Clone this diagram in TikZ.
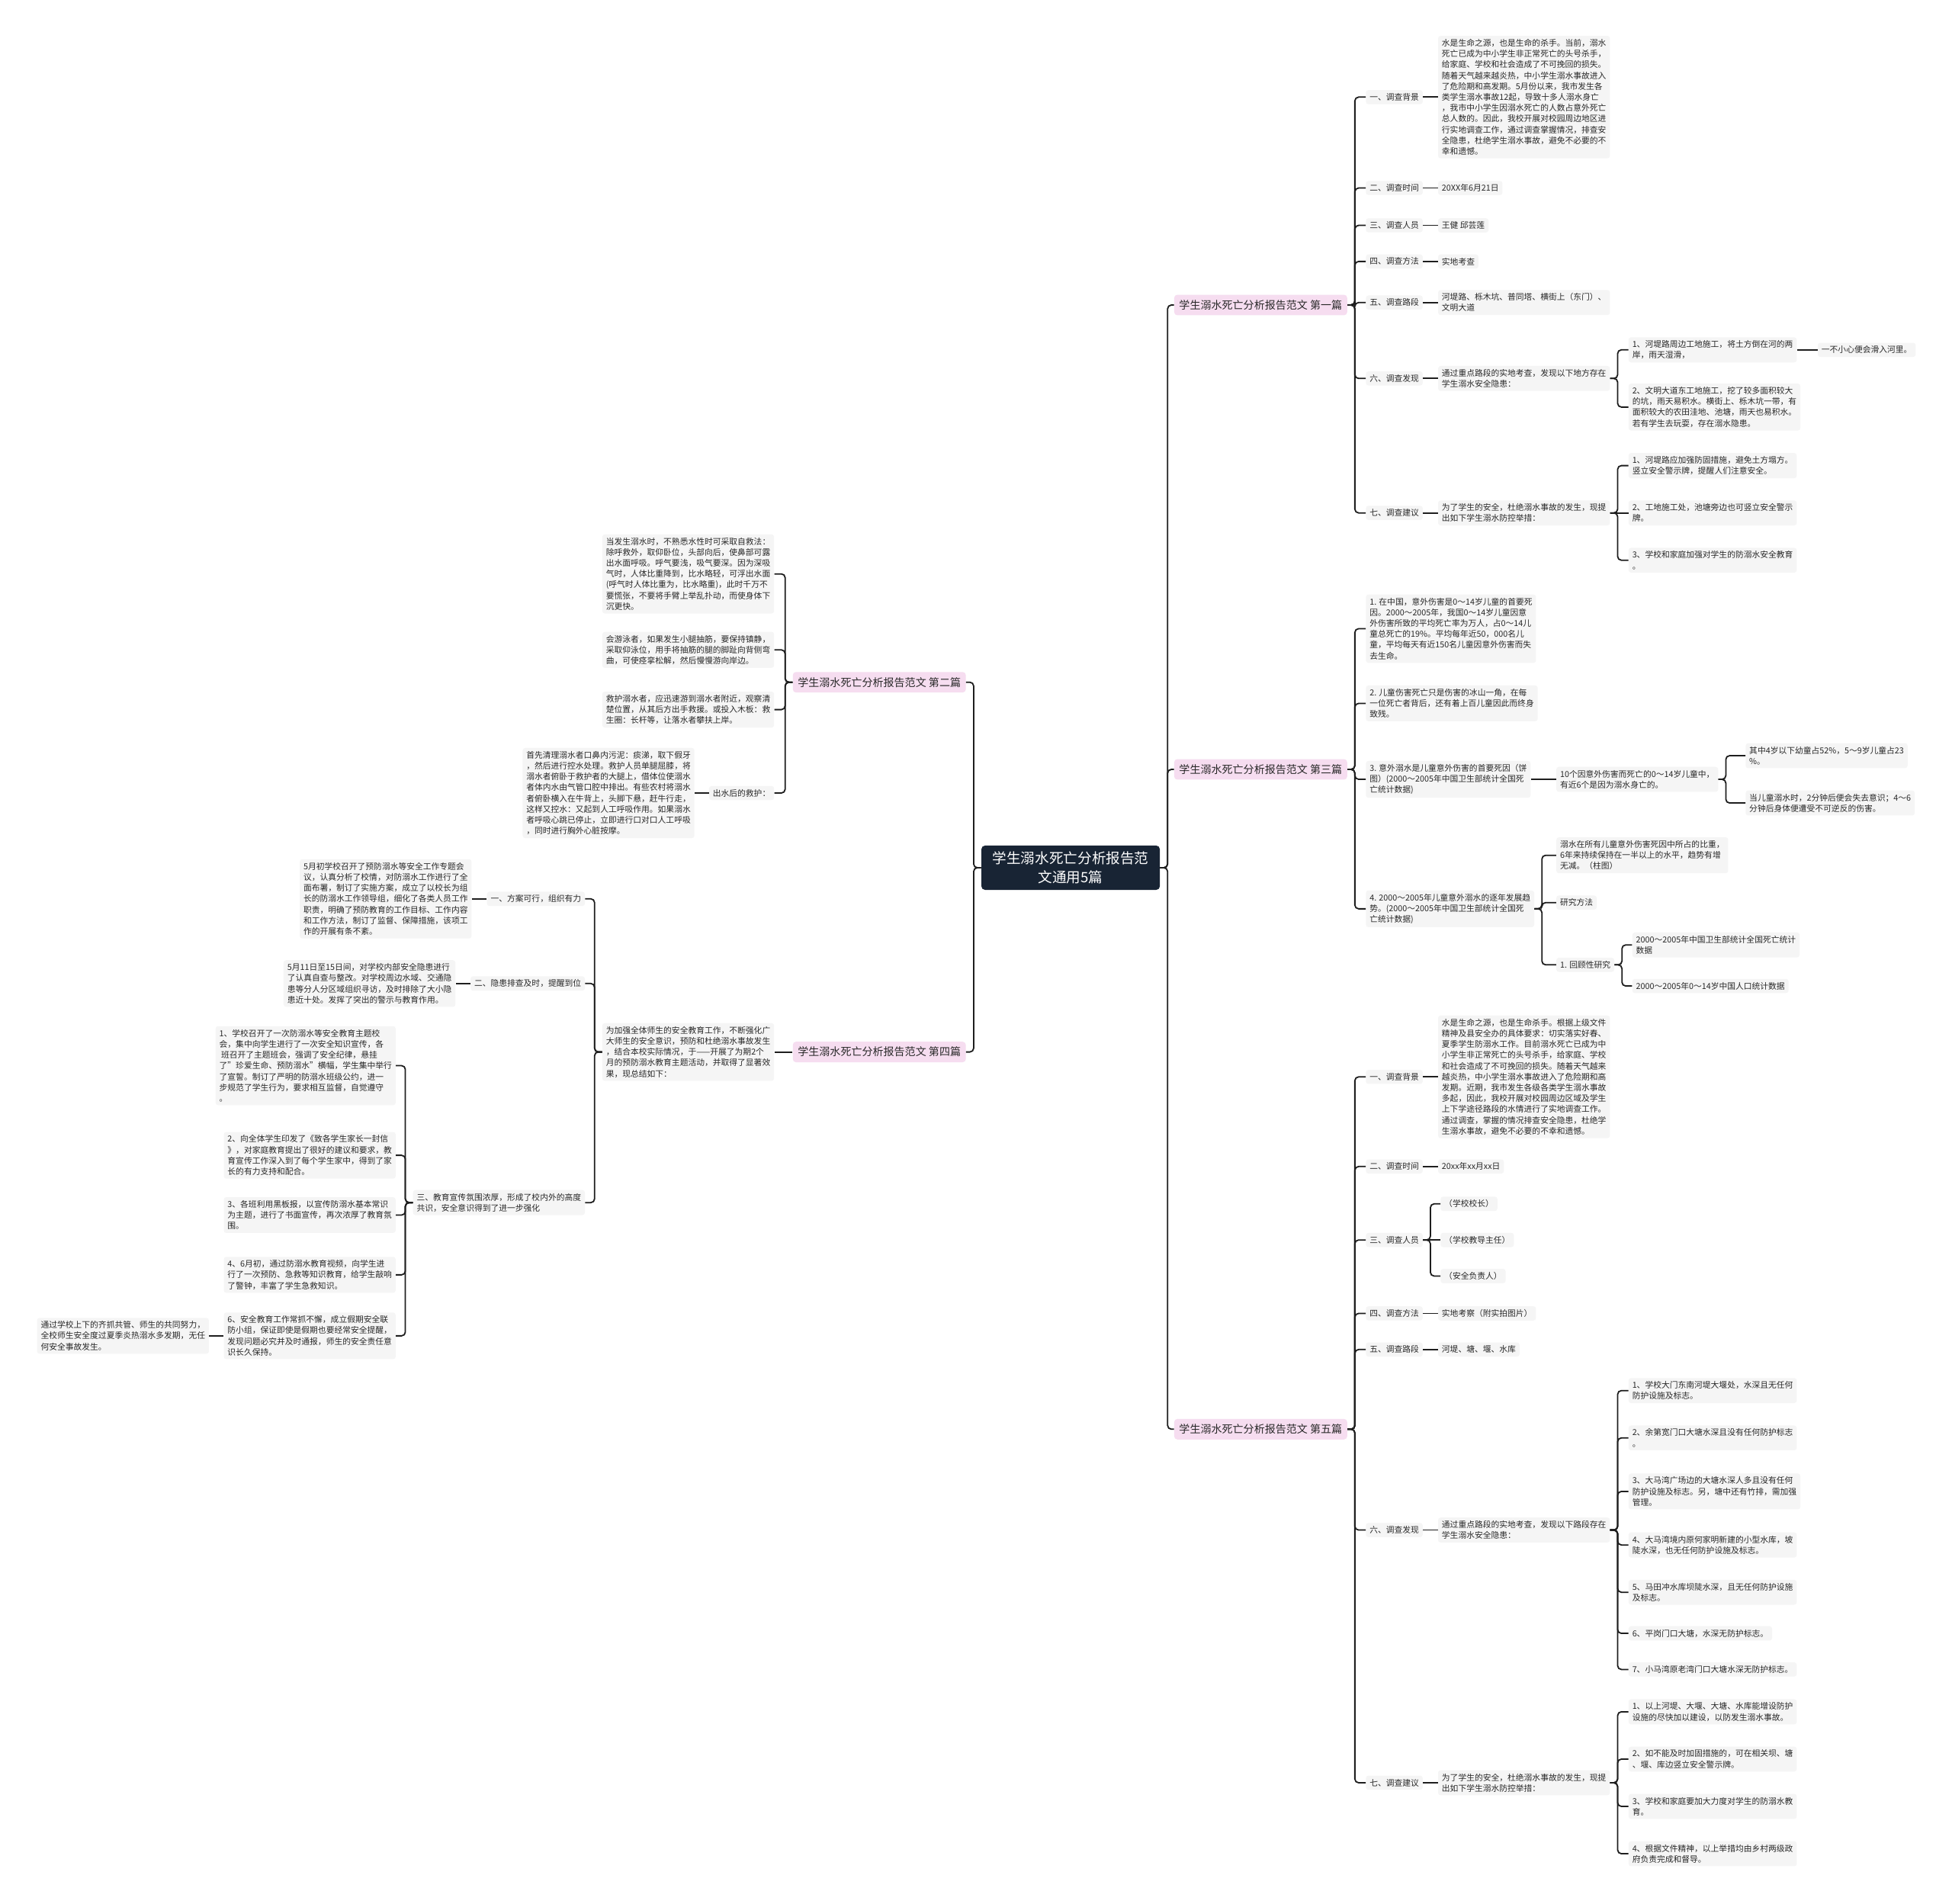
\documentclass[tikz,border=0pt]{standalone}
\usepackage{fontspec}
\setmainfont{Noto Sans CJK SC}
\definecolor{rootc}{RGB}{24,36,52}
\definecolor{pinkc}{RGB}{246,221,240}
\definecolor{leafc}{RGB}{245,245,245}
\definecolor{txtc}{RGB}{40,40,40}
\definecolor{linec}{RGB}{30,30,30}
\tikzset{
 root/.style={fill=rootc, text=white, rounded corners=3pt, inner xsep=9pt, inner ysep=5pt, align=center, font=\fontsize{11.4}{15}\selectfont},
 lvone/.style={fill=pinkc, text=txtc, rounded corners=2.5pt, inner xsep=4pt, inner ysep=4.2pt, font=\fontsize{8.6}{11}\selectfont},
 leaf/.style={fill=leafc, text=txtc, rounded corners=2pt, inner xsep=3pt, inner ysep=2.6pt, align=left, font=\fontsize{6.6}{8.7}\selectfont},
 conn/.style={draw=linec, line width=1.1pt, rounded corners=3pt},
}
\newcommand\rcon[2]{\draw[conn] (#1.east) -- ++(6,0) |- (#2.west);}
\newcommand\lcon[2]{\draw[conn] (#1.west) -- ++(-6,0) |- (#2.east);}
\newcommand\srcon[2]{\draw[conn] (#1.east) -- (#2.west);}
\newcommand\slcon[2]{\draw[conn] (#1.west) -- (#2.east);}
\begin{document}
\begin{tikzpicture}[x=1pt,y=-1pt]
\fill[white] (0,0) rectangle (1568,1529);
\useasboundingbox (0,0) rectangle (1568,1529);

% root
\node[root] (R) at (860,697) {学生溺水死亡分析报告范\\文通用5篇};

% level 1
\node[lvone,anchor=west] (B1) at (943,245) {学生溺水死亡分析报告范文 第一篇};
\node[lvone,anchor=west] (B3) at (943,618) {学生溺水死亡分析报告范文 第三篇};
\node[lvone,anchor=west] (B5) at (943,1148) {学生溺水死亡分析报告范文 第五篇};
\node[lvone,anchor=east] (B2) at (776,548) {学生溺水死亡分析报告范文 第二篇};
\node[lvone,anchor=east] (B4) at (776,845) {学生溺水死亡分析报告范文 第四篇};

\rcon{R}{B1}\rcon{R}{B3}\rcon{R}{B5}
\lcon{R}{B2}\lcon{R}{B4}

% ===== Branch 1 =====
\node[leaf,anchor=west] (b1a) at (1097,78) {一、调查背景};
\node[leaf,anchor=west] (b1a1) at (1155,78) {水是生命之源，也是生命的杀手。当前，溺水\\
死亡已成为中小学生非正常死亡的头号杀手，\\
给家庭、学校和社会造成了不可挽回的损失。\\
随着天气越来越炎热，中小学生溺水事故进入\\
了危险期和高发期。5月份以来，我市发生各\\
类学生溺水事故12起，导致十多人溺水身亡\\
，我市中小学生因溺水死亡的人数占意外死亡\\
总人数的。因此，我校开展对校园周边地区进\\
行实地调查工作，通过调查掌握情况，排查安\\
全隐患，杜绝学生溺水事故，避免不必要的不\\
幸和遗憾。};
\node[leaf,anchor=west] (b1b) at (1097,151) {二、调查时间};
\node[leaf,anchor=west] (b1b1) at (1155,151) {20XX年6月21日};
\node[leaf,anchor=west] (b1c) at (1097,181) {三、调查人员};
\node[leaf,anchor=west] (b1c1) at (1155,181) {王健 邱芸莲};
\node[leaf,anchor=west] (b1d) at (1097,210) {四、调查方法};
\node[leaf,anchor=west] (b1d1) at (1155,210) {实地考查};
\node[leaf,anchor=west] (b1e) at (1097,243) {五、调查路段};
\node[leaf,anchor=west] (b1e1) at (1155,243) {河堤路、栎木坑、普同塔、横街上（东门）、\\文明大道};
\node[leaf,anchor=west] (b1f) at (1097,304) {六、调查发现};
\node[leaf,anchor=west] (b1f1) at (1155,304) {通过重点路段的实地考查，发现以下地方存在\\学生溺水安全隐患：};
\node[leaf,anchor=west] (b1f1a) at (1308,281) {1、河堤路周边工地施工，将土方倒在河的两\\岸，雨天湿滑，};
\node[leaf,anchor=west] (b1f1a1) at (1460,281) {一不小心便会滑入河里。};
\node[leaf,anchor=west] (b1f1b) at (1308,327) {2、文明大道东工地施工，挖了较多面积较大\\
的坑，雨天易积水。横街上、栎木坑一带，有\\
面积较大的农田洼地、池塘，雨天也易积水。\\
若有学生去玩耍，存在溺水隐患。};
\node[leaf,anchor=west] (b1g) at (1097,412) {七、调查建议};
\node[leaf,anchor=west] (b1g1) at (1155,412) {为了学生的安全，杜绝溺水事故的发生，现提\\出如下学生溺水防控举措：};
\node[leaf,anchor=west] (b1g1a) at (1308,374) {1、河堤路应加强防固措施，避免土方塌方。\\竖立安全警示牌，提醒人们注意安全。};
\node[leaf,anchor=west] (b1g1b) at (1308,412) {2、工地施工处，池塘旁边也可竖立安全警示\\牌。};
\node[leaf,anchor=west] (b1g1c) at (1308,450) {3、学校和家庭加强对学生的防溺水安全教育\\。};

\rcon{B1}{b1a}\rcon{B1}{b1b}\rcon{B1}{b1c}\rcon{B1}{b1d}\rcon{B1}{b1e}\rcon{B1}{b1f}\rcon{B1}{b1g}
\srcon{b1a}{b1a1}\srcon{b1b}{b1b1}\srcon{b1c}{b1c1}\srcon{b1d}{b1d1}\srcon{b1e}{b1e1}\srcon{b1f}{b1f1}\srcon{b1g}{b1g1}
\rcon{b1f1}{b1f1a}\rcon{b1f1}{b1f1b}\srcon{b1f1a}{b1f1a1}
\rcon{b1g1}{b1g1a}\srcon{b1g1}{b1g1b}\rcon{b1g1}{b1g1c}

% ===== Branch 3 =====
\node[leaf,anchor=west] (b3a) at (1097,505) {1. 在中国，意外伤害是0～14岁儿童的首要死\\
因。2000～2005年，我国0～14岁儿童因意\\
外伤害所致的平均死亡率为万人，占0～14儿\\
童总死亡的19\%。平均每年近50，000名儿\\
童，平均每天有近150名儿童因意外伤害而失\\
去生命。};
\node[leaf,anchor=west] (b3b) at (1097,565) {2. 儿童伤害死亡只是伤害的冰山一角，在每\\
一位死亡者背后，还有着上百儿童因此而终身\\
致残。};
\node[leaf,anchor=west] (b3c) at (1097,626) {3. 意外溺水是儿童意外伤害的首要死因（饼\\
图）(2000～2005年中国卫生部统计全国死\\
亡统计数据)};
\node[leaf,anchor=west] (b3c1) at (1250,626) {10个因意外伤害而死亡的0～14岁儿童中，\\有近6个是因为溺水身亡的。};
\node[leaf,anchor=west] (b3c1a) at (1402,607) {其中4岁以下幼童占52\%，5～9岁儿童占23\\\%。};
\node[leaf,anchor=west] (b3c1b) at (1402,645) {当儿童溺水时，2分钟后便会失去意识；4～6\\分钟后身体便遭受不可逆反的伤害。};
\node[leaf,anchor=west] (b3d) at (1097,730) {4. 2000～2005年儿童意外溺水的逐年发展趋\\
势。(2000～2005年中国卫生部统计全国死\\
亡统计数据)};
\node[leaf,anchor=west] (b3d1) at (1250,687) {溺水在所有儿童意外伤害死因中所占的比重，\\6年来持续保持在一半以上的水平，趋势有增\\无减。（柱图）};
\node[leaf,anchor=west] (b3d2) at (1250,725) {研究方法};
\node[leaf,anchor=west] (b3d3) at (1250,775) {1. 回顾性研究};
\node[leaf,anchor=west] (b3d3a) at (1311,759) {2000～2005年中国卫生部统计全国死亡统计\\数据};
\node[leaf,anchor=west] (b3d3b) at (1311,792) {2000～2005年0～14岁中国人口统计数据};

\rcon{B3}{b3a}\rcon{B3}{b3b}\rcon{B3}{b3c}\rcon{B3}{b3d}
\srcon{b3c}{b3c1}\rcon{b3c1}{b3c1a}\rcon{b3c1}{b3c1b}
\rcon{b3d}{b3d1}\rcon{b3d}{b3d2}\rcon{b3d}{b3d3}
\rcon{b3d3}{b3d3a}\rcon{b3d3}{b3d3b}

% ===== Branch 5 =====
\node[leaf,anchor=west] (b5a) at (1097,865) {一、调查背景};
\node[leaf,anchor=west] (b5a1) at (1155,865) {水是生命之源，也是生命杀手。根据上级文件\\
精神及县安全办的具体要求：切实落实好春、\\
夏季学生防溺水工作。目前溺水死亡已成为中\\
小学生非正常死亡的头号杀手，给家庭、学校\\
和社会造成了不可挽回的损失。随着天气越来\\
越炎热，中小学生溺水事故进入了危险期和高\\
发期。近期，我市发生各级各类学生溺水事故\\
多起，因此，我校开展对校园周边区域及学生\\
上下学途径路段的水情进行了实地调查工作。\\
通过调查，掌握的情况排查安全隐患，杜绝学\\
生溺水事故，避免不必要的不幸和遗憾。};
\node[leaf,anchor=west] (b5b) at (1097,937) {二、调查时间};
\node[leaf,anchor=west] (b5b1) at (1155,937) {20xx年xx月xx日};
\node[leaf,anchor=west] (b5c) at (1097,996) {三、调查人员};
\node[leaf,anchor=west] (b5c1) at (1157,967) {（学校校长）};
\node[leaf,anchor=west] (b5c2) at (1157,996) {（学校教导主任）};
\node[leaf,anchor=west] (b5c3) at (1157,1025) {（安全负责人）};
\node[leaf,anchor=west] (b5d) at (1097,1055) {四、调查方法};
\node[leaf,anchor=west] (b5d1) at (1155,1055) {实地考察（附实拍图片）};
\node[leaf,anchor=west] (b5e) at (1097,1084) {五、调查路段};
\node[leaf,anchor=west] (b5e1) at (1155,1084) {河堤、塘、堰、水库};
\node[leaf,anchor=west] (b5f) at (1097,1229) {六、调查发现};
\node[leaf,anchor=west] (b5f1) at (1155,1229) {通过重点路段的实地考查，发现以下路段存在\\学生溺水安全隐患：};
\node[leaf,anchor=west] (b5f1a) at (1308,1117) {1、学校大门东南河堤大堰处，水深且无任何\\防护设施及标志。};
\node[leaf,anchor=west] (b5f1b) at (1308,1155) {2、余第宽门口大塘水深且没有任何防护标志\\。};
\node[leaf,anchor=west] (b5f1c) at (1308,1198) {3、大马湾广场边的大塘水深人多且没有任何\\防护设施及标志。另，塘中还有竹排，需加强\\管理。};
\node[leaf,anchor=west] (b5f1d) at (1308,1241) {4、大马湾境内原何家明新建的小型水库，坡\\陡水深，也无任何防护设施及标志。};
\node[leaf,anchor=west] (b5f1e) at (1308,1279) {5、马田冲水库坝陡水深，且无任何防护设施\\及标志。};
\node[leaf,anchor=west] (b5f1f) at (1308,1312) {6、平岗门口大塘，水深无防护标志。};
\node[leaf,anchor=west] (b5f1g) at (1308,1341) {7、小马湾原老湾门口大塘水深无防护标志。};
\node[leaf,anchor=west] (b5g) at (1097,1432) {七、调查建议};
\node[leaf,anchor=west] (b5g1) at (1155,1432) {为了学生的安全，杜绝溺水事故的发生，现提\\出如下学生溺水防控举措：};
\node[leaf,anchor=west] (b5g1a) at (1308,1375) {1、以上河堤、大堰、大塘、水库能增设防护\\设施的尽快加以建设，以防发生溺水事故。};
\node[leaf,anchor=west] (b5g1b) at (1308,1413) {2、如不能及时加固措施的，可在相关坝、塘\\、堰、库边竖立安全警示牌。};
\node[leaf,anchor=west] (b5g1c) at (1308,1451) {3、学校和家庭要加大力度对学生的防溺水教\\育。};
\node[leaf,anchor=west] (b5g1d) at (1308,1489) {4、根据文件精神，以上举措均由乡村两级政\\府负责完成和督导。};

\rcon{B5}{b5a}\rcon{B5}{b5b}\rcon{B5}{b5c}\rcon{B5}{b5d}\rcon{B5}{b5e}\rcon{B5}{b5f}\rcon{B5}{b5g}
\srcon{b5a}{b5a1}\srcon{b5b}{b5b1}\srcon{b5d}{b5d1}\srcon{b5e}{b5e1}\srcon{b5f}{b5f1}\srcon{b5g}{b5g1}
\rcon{b5c}{b5c1}\srcon{b5c}{b5c2}\rcon{b5c}{b5c3}
\rcon{b5f1}{b5f1a}\rcon{b5f1}{b5f1b}\rcon{b5f1}{b5f1c}\rcon{b5f1}{b5f1d}\rcon{b5f1}{b5f1e}\rcon{b5f1}{b5f1f}\rcon{b5f1}{b5f1g}
\rcon{b5g1}{b5g1a}\rcon{b5g1}{b5g1b}\rcon{b5g1}{b5g1c}\rcon{b5g1}{b5g1d}

% ===== Branch 2 =====
\node[leaf,anchor=east] (b2a) at (622,461) {当发生溺水时，不熟悉水性时可采取自救法：\\
除呼救外，取仰卧位，头部向后，使鼻部可露\\
出水面呼吸。呼气要浅，吸气要深。因为深吸\\
气时，人体比重降到，比水略轻，可浮出水面\\
(呼气时人体比重为，比水略重)，此时千万不\\
要慌张，不要将手臂上举乱扑动，而使身体下\\
沉更快。};
\node[leaf,anchor=east] (b2b) at (622,522) {会游泳者，如果发生小腿抽筋，要保持镇静，\\
采取仰泳位，用手将抽筋的腿的脚趾向背侧弯\\
曲，可使痉挛松解，然后慢慢游向岸边。};
\node[leaf,anchor=east] (b2c) at (622,570) {救护溺水者，应迅速游到溺水者附近，观察清\\
楚位置，从其后方出手救援。或投入木板：救\\
生圈：长杆等，让落水者攀扶上岸。};
\node[leaf,anchor=east] (b2d) at (622,637) {出水后的救护：};
\node[leaf,anchor=east] (b2d1) at (558,637) {首先清理溺水者口鼻内污泥：痰涕，取下假牙\\
，然后进行控水处理。救护人员单腿屈膝，将\\
溺水者俯卧于救护者的大腿上，借体位使溺水\\
者体内水由气管口腔中排出。有些农村将溺水\\
者俯卧横入在牛背上，头脚下悬，赶牛行走，\\
这样又控水：又起到人工呼吸作用。如果溺水\\
者呼吸心跳已停止，立即进行口对口人工呼吸\\
，同时进行胸外心脏按摩。};

\lcon{B2}{b2a}\lcon{B2}{b2b}\lcon{B2}{b2c}\lcon{B2}{b2d}
\slcon{b2d}{b2d1}

% ===== Branch 4 =====
\node[leaf,anchor=east] (b4a) at (622,845) {为加强全体师生的安全教育工作，不断强化广\\
大师生的安全意识，预防和杜绝溺水事故发生\\
，结合本校实际情况，于——开展了为期2个\\
月的预防溺水教育主题活动，并取得了显著效\\
果，现总结如下：};
\node[leaf,anchor=east] (b4a1) at (470,722) {一、方案可行，组织有力};
\node[leaf,anchor=east] (b4a1a) at (379,722) {5月初学校召开了预防溺水等安全工作专题会\\
议，认真分析了校情，对防溺水工作进行了全\\
面布署，制订了实施方案，成立了以校长为组\\
长的防溺水工作领导组，细化了各类人员工作\\
职责，明确了预防教育的工作目标、工作内容\\
和工作方法，制订了监督、保障措施，该项工\\
作的开展有条不紊。};
\node[leaf,anchor=east] (b4a2) at (470,790) {二、隐患排查及时，提醒到位};
\node[leaf,anchor=east] (b4a2a) at (366,790) {5月11日至15日间，对学校内部安全隐患进行\\
了认真自查与整改。对学校周边水域、交通隐\\
患等分人分区域组织寻访，及时排除了大小隐\\
患近十处。发挥了突出的警示与教育作用。};
\node[leaf,anchor=east] (b4a3) at (470,966) {三、教育宣传氛围浓厚，形成了校内外的高度\\共识，安全意识得到了进一步强化};
\node[leaf,anchor=east] (b4c1) at (318,856) {1、学校召开了一次防溺水等安全教育主题校\\
会，集中向学生进行了一次安全知识宣传，各\\
\ 班召开了主题班会，强调了安全纪律，悬挂\\
了"珍爱生命、预防溺水"横幅，学生集中举行\\
了宣誓。制订了严明的防溺水班级公约，进一\\
步规范了学生行为，要求相互监督，自觉遵守\\
。};
\node[leaf,anchor=east] (b4c2) at (318,928) {2、向全体学生印发了《致各学生家长一封信\\
》，对家庭教育提出了很好的建议和要求，教\\
育宣传工作深入到了每个学生家中，得到了家\\
长的有力支持和配合。};
\node[leaf,anchor=east] (b4c3) at (318,976) {3、各班利用黑板报，以宣传防溺水基本常识\\
为主题，进行了书面宣传，再次浓厚了教育氛\\
围。};
\node[leaf,anchor=east] (b4c4) at (318,1024) {4、6月初，通过防溺水教育视频，向学生进\\
行了一次预防、急救等知识教育，给学生敲响\\
了警钟，丰富了学生急救知识。};
\node[leaf,anchor=east] (b4c5) at (318,1073) {6、安全教育工作常抓不懈，成立假期安全联\\
防小组，保证即使是假期也要经常安全提醒，\\
发现问题必究并及时通报，师生的安全责任意\\
识长久保持。};
\node[leaf,anchor=east] (b4c5a) at (168,1073) {通过学校上下的齐抓共管、师生的共同努力，\\
全校师生安全度过夏季炎热溺水多发期，无任\\
何安全事故发生。};

\slcon{B4}{b4a}
\lcon{b4a}{b4a1}\lcon{b4a}{b4a2}\lcon{b4a}{b4a3}
\slcon{b4a1}{b4a1a}\slcon{b4a2}{b4a2a}
\lcon{b4a3}{b4c1}\lcon{b4a3}{b4c2}\lcon{b4a3}{b4c3}\lcon{b4a3}{b4c4}\lcon{b4a3}{b4c5}
\slcon{b4c5}{b4c5a}
\end{tikzpicture}
\end{document}
